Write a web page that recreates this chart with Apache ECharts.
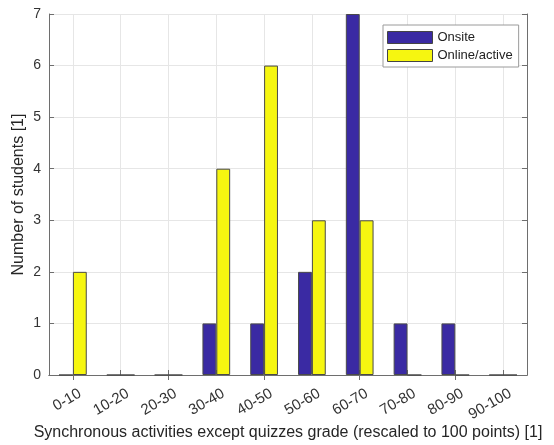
<!DOCTYPE html>
<html>
<head>
<meta charset="utf-8">
<script src="https://cdn.jsdelivr.net/npm/echarts@6/dist/echarts.min.js"></script>
<style>html,body{margin:0;padding:0;background:#fff;}#chart{width:554px;height:445px;}</style>
</head>
<body>
<div id="chart"></div>
<script>
const categories = ['0-10','10-20','20-30','30-40','40-50','50-60','60-70','70-80','80-90','90-100'];
const onsite = [0,0,0,1,1,2,7,1,1,0];
const onlineActive = [2,0,0,4,6,3,3,0,0,0];
const seriesNames = ['Onsite','Online/active'];
const xTitle = 'Synchronous activities except quizzes grade (rescaled to 100 points) [1]';
const yTitle = 'Number of students [1]';

const FONT = '"Liberation Sans", Arial, Helvetica, sans-serif';
const axisCol = '#6e6e6e';
const gridCol = '#e6e6e6';
const chart = echarts.init(document.getElementById('chart'));
chart.setOption({
  animation: false,
  backgroundColor: '#fff',
  textStyle: { fontFamily: FONT },
  grid: { left: 49, right: 27, top: 14, bottom: 70, containLabel: false, outerBoundsMode: 'none' },
  legend: {
    data: seriesNames,
    orient: 'vertical',
    left: 383, top: 25,
    padding: [6, 6, 5, 4],
    itemWidth: 45, itemHeight: 12, itemGap: 5,
    backgroundColor: '#fff',
    borderColor: '#9a9a9a', borderWidth: 1,
    icon: 'rect',
    textStyle: { fontSize: 13, color: '#222', fontFamily: FONT },
    itemStyle: { borderColor: '#444', borderWidth: 1 }
  },
  xAxis: [{
    type: 'category', data: categories, position: 'bottom',
    boundaryGap: true,
    axisLine: { show: true, lineStyle: { color: axisCol, width: 1 } },
    axisTick: { show: true, inside: true, alignWithLabel: true, length: 5, lineStyle: { color: axisCol } },
    splitLine: { show: true, alignWithLabel: true, lineStyle: { color: gridCol, width: 1 } },
    axisLabel: { rotate: 30, fontSize: 15, color: '#333', margin: 13, interval: 0, fontFamily: FONT,
                 verticalAlign: 'top', padding: [0, -4, 0, 0] },
    name: xTitle, nameLocation: 'middle', nameGap: 50, nameMoveOverlap: false,
    nameTextStyle: { fontSize: 16, color: '#262626', fontFamily: FONT }
  }, {
    type: 'category', data: categories, position: 'top',
    boundaryGap: true,
    axisLine: { show: true, lineStyle: { color: axisCol, width: 1 } },
    axisTick: { show: true, inside: true, alignWithLabel: true, length: 5, lineStyle: { color: axisCol } },
    axisLabel: { show: false }, splitLine: { show: false }
  }],
  yAxis: [{
    type: 'value', min: 0, max: 7, interval: 1, position: 'left',
    axisLine: { show: true, lineStyle: { color: axisCol, width: 1 } },
    axisTick: { show: true, inside: true, length: 5, lineStyle: { color: axisCol } },
    splitLine: { show: true, lineStyle: { color: gridCol, width: 1 } },
    axisLabel: { fontSize: 14, color: '#333', margin: 8, fontFamily: FONT },
    name: yTitle, nameLocation: 'middle', nameGap: 22, nameMoveOverlap: false,
    nameTextStyle: { fontSize: 16, color: '#262626', fontFamily: FONT }
  }, {
    type: 'value', min: 0, max: 7, interval: 1, position: 'right',
    axisLine: { show: true, lineStyle: { color: axisCol, width: 1 } },
    axisTick: { show: true, inside: true, length: 5, lineStyle: { color: axisCol } },
    axisLabel: { show: false }, splitLine: { show: false }
  }],
  series: [{
    name: seriesNames[0], type: 'bar', data: onsite,
    xAxisIndex: 0, yAxisIndex: 0,
    barWidth: '29%', barGap: '0%',
    itemStyle: { color: '#3a2aa3', borderColor: '#4a4a4a', borderWidth: 1 }
  }, {
    name: seriesNames[1], type: 'bar', data: onlineActive,
    xAxisIndex: 0, yAxisIndex: 0,
    barWidth: '29%', barGap: '0%',
    itemStyle: { color: '#f6f610', borderColor: '#4a4a4a', borderWidth: 1 }
  }]
});
</script>
</body>
</html>
